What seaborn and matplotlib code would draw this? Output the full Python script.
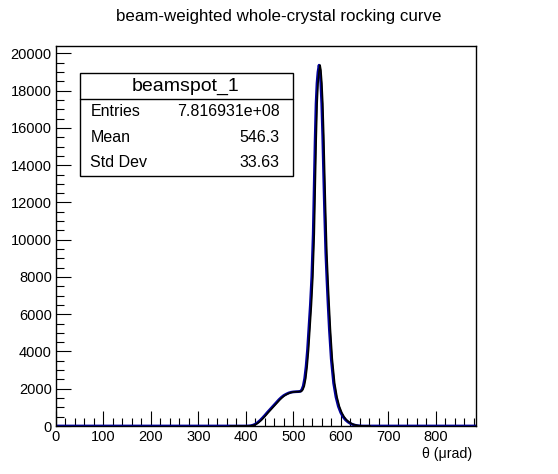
import numpy as np
import pandas as pd
import matplotlib
matplotlib.use("Agg")
import matplotlib.pyplot as plt
import seaborn as sns
from matplotlib.ticker import MultipleLocator

# ---- data ----
theta = [0, 400, 405, 410, 415, 420, 425, 430, 435, 440, 445, 450, 455, 460, 465,
         470, 475, 480, 485, 490, 495, 500, 505, 510, 515, 518, 521, 524, 527,
         530, 533, 536, 539, 542, 544, 546, 548, 550, 552, 554.3, 556, 558, 560,
         562, 564, 566, 568.5, 571, 573, 576, 580, 585, 590, 595, 600, 605, 610,
         615, 620, 625, 630, 635, 640, 645, 650, 885]
counts = [0, 0, 5, 15, 45, 100, 190, 300, 430, 570, 720, 860, 1000, 1140, 1280,
          1420, 1540, 1640, 1710, 1770, 1810, 1830, 1840, 1845, 1860, 1950, 2150,
          2550, 3200, 4100, 5300, 6500, 8000, 10300, 12800, 15300, 17300, 18400,
          19000, 19370, 19100, 18400, 17300, 15600, 13500, 11500, 9300, 7800, 6700,
          5200, 3600, 2300, 1550, 1050, 720, 490, 330, 220, 140, 80, 45, 20, 8, 0,
          0, 0]

title = "beam-weighted whole-crystal rocking curve"
hist_name = "beamspot_1"
stat_labels = ["Entries", "Mean", "Std Dev"]
stat_values = ["7.816931e+08", "546.3", "33.63"]
xlabel = "\u03b8 (\u03bcrad)"

X_MAX = 885
Y_MAX = 20400
SHIFT = 2.2  # slight offset of the overlaid black curve

sns.set_theme(style="white")
plt.rcParams['font.family'] = ['Liberation Sans', 'DejaVu Sans']
plt.rcParams['text.color'] = 'black'
plt.rcParams['xtick.color'] = 'black'
plt.rcParams['ytick.color'] = 'black'
plt.rcParams['xtick.labelcolor'] = 'black'
plt.rcParams['ytick.labelcolor'] = 'black'

df = pd.DataFrame({"theta": theta, "counts": counts})
df_black = df[(df.theta >= 365) & (df.theta <= 660)].copy()
df_black = pd.concat([pd.DataFrame({"theta": [365], "counts": [0]}), df_black,
                      pd.DataFrame({"theta": [660], "counts": [0]})])
df_black["theta"] = df_black["theta"] + SHIFT

fig = plt.figure(figsize=(5.58, 4.74), dpi=100)
ax = fig.add_axes([56/558, 48/474, 420/558, 380/474])

sns.lineplot(data=df, x="theta", y="counts", ax=ax, color="#000099", lw=2.0,
             sort=False, estimator=None)
sns.lineplot(data=df_black, x="theta", y="counts", ax=ax, color="black", lw=1.2,
             sort=False, estimator=None)

ax.set_xlim(0, X_MAX)
ax.set_ylim(0, Y_MAX)
ax.xaxis.set_major_locator(MultipleLocator(100))
ax.xaxis.set_minor_locator(MultipleLocator(20))
ax.yaxis.set_major_locator(MultipleLocator(2000))
ax.yaxis.set_minor_locator(MultipleLocator(500))
ax.tick_params(which="both", direction="in", top=False, right=False,
               bottom=True, left=True, color="black", labelcolor="black",
               width=0.8)
ax.tick_params(which="major", length=11, labelsize=10.5, pad=3)
ax.tick_params(which="minor", length=6)
ax.set_xticks([v for v in range(0, 900, 100)])
ax.set_xticklabels([str(v) for v in range(0, 900, 100)])
for sp in ax.spines.values():
    sp.set_color("black")
    sp.set_linewidth(1.0)
ax.set_xlabel("")
ax.set_ylabel("")
ax.text(0.99, -0.055, xlabel, transform=ax.transAxes, ha="right", va="top",
        fontsize=10.2, color="black")

fig.text(0.5, 1 - 16/474, title, ha="center", va="center", fontsize=12.2,
         color="black")

# stats box
bx0, bx1 = 79.5/558, 292.5/558
by_top, by_bot = 1 - 72.5/474, 1 - 175.5/474
by_sep = 1 - 99/474
fig.patches.append(plt.Rectangle((bx0, by_bot), bx1 - bx0, by_top - by_bot,
                                 transform=fig.transFigure, fill=True,
                                 facecolor="white", edgecolor="black", lw=1.0,
                                 zorder=5))
fig.lines.append(plt.Line2D([bx0, bx1], [by_sep, by_sep],
                            transform=fig.transFigure, color="black", lw=1.0,
                            zorder=6))
fig.text((bx0 + bx1) / 2, 1 - 86/474, hist_name, ha="center", va="center",
         fontsize=14, zorder=7, color="black")
row_y = [111.5, 137.3, 162.7]
for lab, val, ry in zip(stat_labels, stat_values, row_y):
    fig.text(90.5/558, 1 - ry/474, lab, ha="left", va="center", fontsize=11.5,
             zorder=7, color="black")
    fig.text(279.5/558, 1 - ry/474, val, ha="right", va="center", fontsize=11.5,
             zorder=7, color="black")

fig.savefig("out.png", dpi=100, facecolor="white")
